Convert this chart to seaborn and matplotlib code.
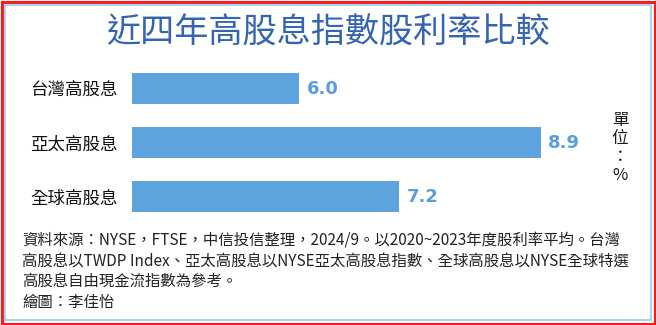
import matplotlib
matplotlib.use("Agg")
import matplotlib.pyplot as plt
import seaborn as sns
import pandas as pd
from matplotlib.patches import Rectangle

categories = ["台灣高股息", "亞太高股息", "全球高股息"]
values = [6.0, 8.9, 7.2]
title = "近四年高股息指數股利率比較"
unit_text = "單\n位\n：\n%"
note_lines = [
    "資料來源：NYSE，FTSE，中信投信整理，2024/9。以2020~2023年度股利率平均。台灣",
    "高股息以TWDP Index、亞太高股息以NYSE亞太高股息指數、全球高股息以NYSE全球特選",
    "高股息自由現金流指數為參考。",
]
credit = "繪圖：李佳怡"

sns.set_style("white")
plt.rcParams['font.family'] = ['Noto Sans CJK TC', 'DejaVu Sans']

W, H = 656, 325
fig = plt.figure(figsize=(W / 100, H / 100), dpi=100)
fig.patch.set_facecolor("white")

# axes placement (pixel based)
ax_left, ax_right = 132, 132 + 5.6 * 83.4
ax_top, ax_bottom = 61.5, 223.5
ax = fig.add_axes([ax_left / W, 1 - ax_bottom / H, (ax_right - ax_left) / W, (ax_bottom - ax_top) / H])

df = pd.DataFrame({"cat": categories, "val": values})
bar_color = "#5da3dd"
sns.barplot(data=df, x="val", y="cat", orient="h", color=bar_color, width=0.574,
            saturation=1, ax=ax, edgecolor="none")
ax.set_xlim(4, 9.6)
ax.set_ylim(2.5, -0.5)
for c in ax.containers:
    ax.bar_label(c, fmt="%.1f", padding=5.5, color="#5a9edc", fontsize=13,
                 fontweight="bold", family=['DejaVu Sans'])
ax.set_xlabel("")
ax.set_ylabel("")
ax.set_xticks([])
ax.tick_params(axis="y", length=0, pad=10.5, labelsize=12.6, labelcolor="#111111")
for lbl in ax.get_yticklabels():
    lbl.set_fontweight("medium")
for s in ax.spines.values():
    s.set_visible(False)
ax.patch.set_alpha(0)

# title
fig.text(0.5, 1 - 33 / H, title, ha="center", va="center", fontsize=24.6,
         color="#3465b0", fontweight="medium")

# unit
fig.text(620 / W, 1 - 148 / H, unit_text, ha="center", va="center", fontsize=12,
         color="#1a1a1a", linespacing=1.08)

# notes
ys = [241, 261, 281]
for y, line in zip(ys, note_lines):
    fig.text(22 / W, 1 - y / H, line, ha="left", va="center", fontsize=11.1, color="#222222")
fig.text(22 / W, 1 - 302 / H, credit, ha="left", va="center", fontsize=11.1, color="#222222")

# borders
fig.patches.append(Rectangle((1.5 / W, 1.5 / H), (W - 3) / W, (H - 3) / H, transform=fig.transFigure,
                             fill=False, edgecolor="#ff1a1a", lw=2.2, zorder=10))
fig.patches.append(Rectangle((4.8 / W, 4.8 / H), (W - 9.6) / W, (H - 9.6) / H, transform=fig.transFigure,
                             fill=False, edgecolor="#a8d4f4", lw=1.5, zorder=10))

fig.savefig("out.png", dpi=100)
